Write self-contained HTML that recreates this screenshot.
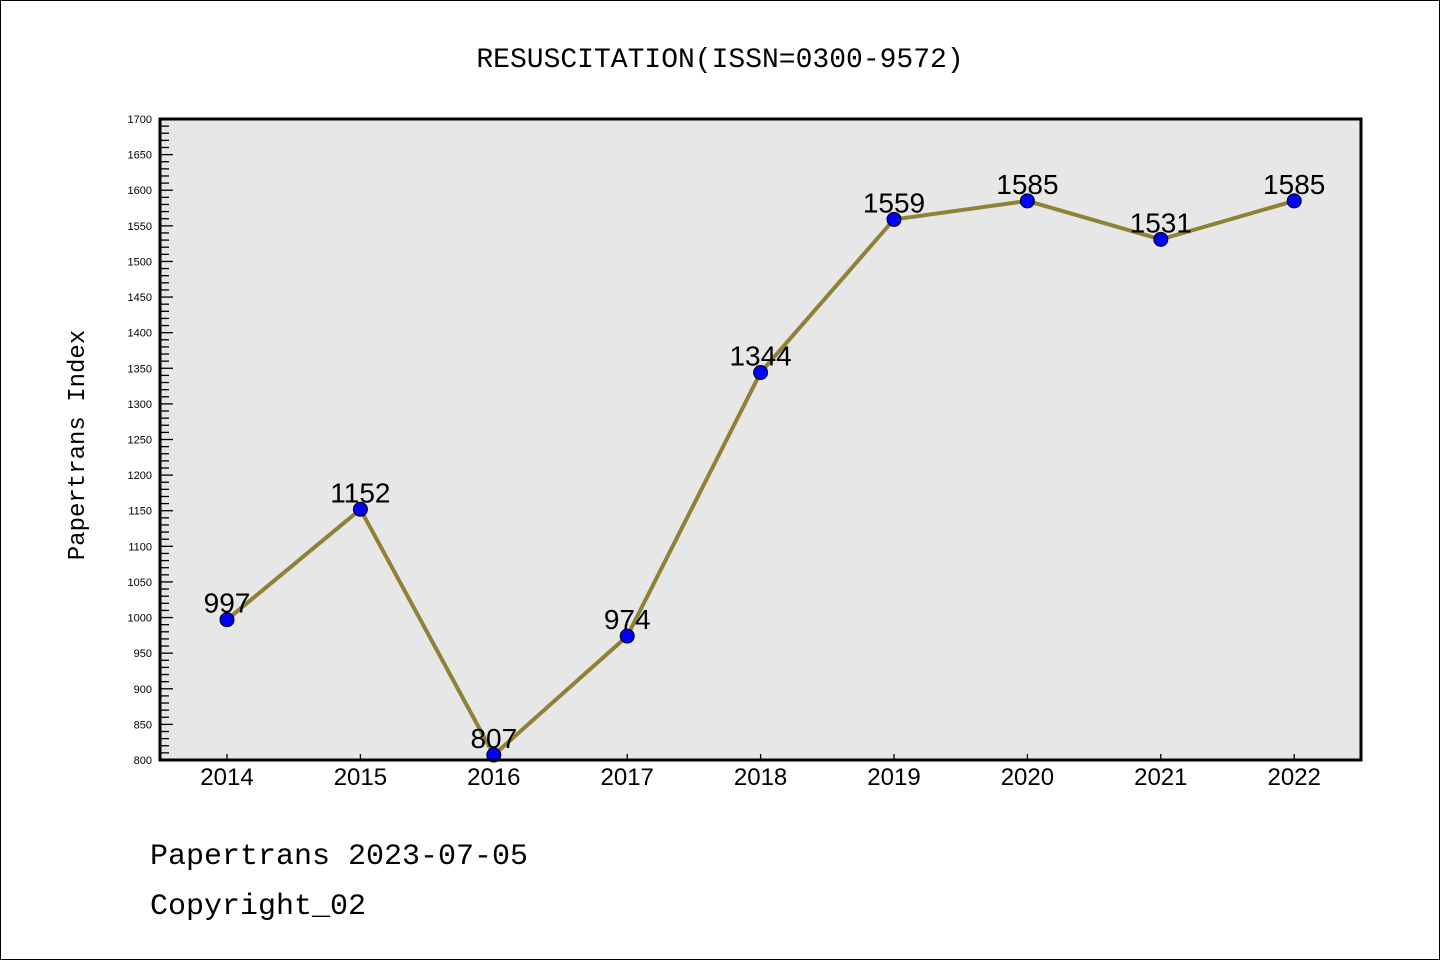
<!DOCTYPE html>
<html><head><meta charset="utf-8"><style>
body{margin:0;background:#fff}
svg{display:block}
text{font-family:"Liberation Sans","DejaVu Sans",sans-serif}
.mono{font-family:"Liberation Mono","DejaVu Sans Mono",monospace}
</style></head><body>
<svg id="chart" width="1440" height="960" xmlns="http://www.w3.org/2000/svg">
<rect x="0.5" y="0.5" width="1439" height="959" fill="#fff" stroke="#000"/>
<text x="720" y="67" text-anchor="middle" font-size="28" class="mono">RESUSCITATION(ISSN=0300-9572)</text>
<rect x="160" y="119" width="1201" height="641" fill="#e7e7e7"/>
<g id="yaxis"></g>
<g id="xaxis"></g>
<g id="series"></g>
<rect x="160" y="119" width="1201" height="641" fill="none" stroke="#000" stroke-width="3"/>
<text transform="translate(84,445) rotate(-90)" text-anchor="middle" font-size="24" class="mono">Papertrans Index</text>
<text x="150" y="864" font-size="30" class="mono">Papertrans 2023-07-05</text>
<text x="150" y="914" font-size="30" class="mono">Copyright_02</text>
</svg>
<script>
const years=["2014","2015","2016","2017","2018","2019","2020","2021","2022"];
const values=[997,1152,807,974,1344,1559,1585,1531,1585];
const yMin=800,yMax=1700;
const NS="http://www.w3.org/2000/svg";
const L=160,R=1361,T=119,B=760;
const x0=227,dx=133.4;
function xs(i){return x0+i*dx;}
function ys(v){return B-(v-yMin)/(yMax-yMin)*(B-T);}
function mk(tag,attrs,parent){const e=document.createElementNS(NS,tag);for(const k in attrs)e.setAttribute(k,attrs[k]);parent.appendChild(e);return e;}
const ya=document.getElementById('yaxis');
for(let v=yMin;v<=yMax;v+=10){
  const major=(v%50===0);const y=ys(v);
  const t=mk('line',{x1:L,x2:L+(major?13:9),y1:y,y2:y,stroke:'#000','stroke-width':1.3},ya);
  
  
  if(major){
    const lb=mk('text',{x:152,y:y+4,'text-anchor':'end','font-size':11},ya);
    lb.textContent=v;
    
    
  }
}
const xa=document.getElementById('xaxis');
years.forEach((yr,i)=>{
  const x=xs(i);
  const t=mk('line',{x1:x,x2:x,y1:B,y2:B-6,stroke:'#000','stroke-width':1.3},xa);
  
  
  const lb=mk('text',{x:x,y:785,'text-anchor':'middle','font-size':24},xa);
  lb.textContent=yr;
  
  
});
const sg=document.getElementById('series');
const pts=values.map((v,i)=>xs(i)+','+ys(v)).join(' ');
const pl=mk('polyline',{points:pts,fill:'none',stroke:'#8f8236','stroke-width':4,'stroke-linejoin':'round'},sg);


values.forEach((v,i)=>{
  const c=mk('circle',{cx:xs(i),cy:ys(v),r:7,fill:'#0000ff',stroke:'#000','stroke-width':1},sg);
  
  
  const lb=mk('text',{x:xs(i),y:ys(v)-7,'text-anchor':'middle','font-size':28},sg);
  lb.textContent=v;
  
  
});
</script>
</body></html>
